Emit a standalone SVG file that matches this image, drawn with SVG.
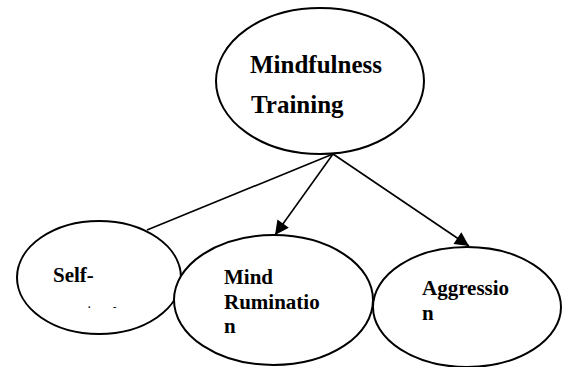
<svg xmlns="http://www.w3.org/2000/svg" width="562" height="367" viewBox="0 0 562 367">
<style>
.node ellipse{fill:#fff;stroke:#000;stroke-width:2}
.lbl{font-family:'Liberation Serif',Tinos,'Times New Roman',Times,'DejaVu Serif',serif;font-weight:700;fill:#000}
.big{font-size:25px}
.sm{font-size:21px}
.edge{stroke:#000;stroke-width:1.6;fill:none}
</style>
<defs>
<marker id="arr" viewBox="0 0 10 10" refX="10" refY="5" markerWidth="16" markerHeight="14" markerUnits="userSpaceOnUse" orient="auto">
<path d="M0,0 L10,5 L0,10 Z" fill="#000"/>
</marker>
</defs>
<rect width="562" height="367" fill="#fff"/>
<g id="connectors">
<line class="edge" x1="333" y1="154" x2="147" y2="230"/>
<line class="edge" x1="333" y1="154" x2="275" y2="235" marker-end="url(#arr)"/>
<line class="edge" x1="333" y1="154" x2="469" y2="246" marker-end="url(#arr)"/>
</g>
<g id="node-mindfulness" class="node">
<ellipse cx="320" cy="81" rx="104" ry="73"/>
<text class="lbl big" x="250" y="73">Mindfulness</text>
<text class="lbl big" x="251" y="113">Training</text>
</g>
<g id="node-self" class="node">
<ellipse cx="99" cy="277.5" rx="82" ry="56.5"/>
<text class="lbl sm" x="53" y="282">Self-</text>
<text class="lbl" font-size="10" x="88" y="308">.</text>
<text class="lbl" font-size="10" x="113" y="310">-</text>
</g>
<g id="node-rumination" class="node">
<ellipse cx="273.5" cy="300" rx="99.5" ry="65"/>
<text class="lbl sm" x="224" y="284">Mind</text>
<text class="lbl sm" x="224" y="309">Ruminatio</text>
<text class="lbl sm" x="224" y="333">n</text>
</g>
<g id="node-aggression" class="node">
<ellipse cx="467" cy="307" rx="94" ry="60"/>
<text class="lbl sm" x="422" y="295">Aggressio</text>
<text class="lbl sm" x="422" y="320">n</text>
</g>
</svg>
